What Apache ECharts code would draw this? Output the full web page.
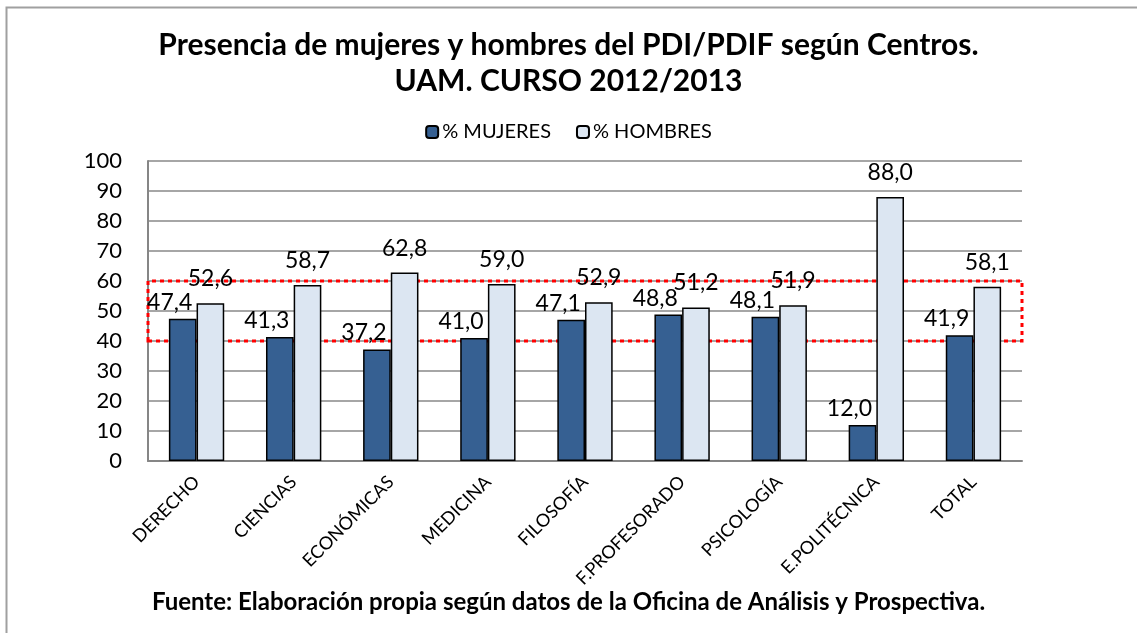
<!DOCTYPE html>
<html>
<head>
<meta charset="utf-8">
<script src="https://cdn.jsdelivr.net/npm/echarts@6/dist/echarts.min.js"></script>
<style>
  html, body { margin: 0; padding: 0; background: #fff; }
  #chart { width: 1137px; height: 633px; }
</style>
</head>
<body>
<div id="chart"></div>
<script>
var centros = ['DERECHO', 'CIENCIAS', 'ECONÓMICAS', 'MEDICINA', 'FILOSOFÍA', 'F.PROFESORADO', 'PSICOLOGÍA', 'E.POLITÉCNICA', 'TOTAL'];
var mujeres = [47.4, 41.3, 37.2, 41.0, 47.1, 48.8, 48.1, 12.0, 41.9];
var hombres = [52.6, 58.7, 62.8, 59.0, 52.9, 51.2, 51.9, 88.0, 58.1];
var franja = [40, 60]; // zona marcada en rojo

var fuente = 'Lato, "Open Sans", sans-serif';

function coma(p) {
  return p.value.toFixed(1).replace('.', ',');
}

var myChart = echarts.init(document.getElementById('chart'));

var option = {
  animation: false,
  backgroundColor: '#fff',
  textStyle: { fontFamily: fuente, color: '#000' },
  title: {
    text: 'Presencia de mujeres y hombres del PDI/PDIF según Centros.\nUAM. CURSO 2012/2013',
    left: 'center',
    top: 22,
    textStyle: {
      fontSize: 30,
      fontWeight: 'bold',
      lineHeight: 36,
      fontFamily: fuente,
      color: '#000'
    }
  },
  legend: {
    top: 117,
    left: 'center',
    itemWidth: 12,
    itemHeight: 12,
    itemGap: 25,
    textStyle: { fontSize: 20, color: '#000', fontFamily: fuente, padding: [0, 0, 0, -1] },
    data: ['% MUJERES', '% HOMBRES']
  },
  grid: {
    left: 148,
    right: 115,
    top: 161,
    bottom: 172
  },
  xAxis: {
    type: 'category',
    data: centros,
    axisLine: { lineStyle: { color: '#868686', width: 2 } },
    axisTick: { show: false },
    axisLabel: {
      rotate: 45,
      fontSize: 18,
      color: '#000',
      fontFamily: fuente,
      margin: 18,
      interval: 0
    }
  },
  yAxis: {
    type: 'value',
    min: 0,
    max: 100,
    interval: 10,
    axisLine: { show: true, lineStyle: { color: '#868686', width: 2 } },
    axisTick: { show: false },
    axisLabel: { fontSize: 22, color: '#000', fontFamily: fuente, margin: 26 },
    splitLine: { lineStyle: { color: '#a6a6a6', width: 2 } }
  },
  series: [
    {
      name: '% MUJERES',
      type: 'bar',
      data: mujeres,
      barGap: '0%',
      barCategoryGap: '43%',
      itemStyle: { color: '#366092', borderColor: '#000', borderWidth: 1.5 },
      label: {
        show: true,
        position: 'top',
        distance: 5,
        offset: [-13, 0],
        fontSize: 23,
        color: '#000',
        fontFamily: fuente,
        formatter: coma
      },
      markArea: {
        silent: true,
        itemStyle: {
          color: 'rgba(0,0,0,0)',
          borderColor: '#ff0000',
          borderWidth: 3,
          borderType: [4, 4]
        },
        data: [[{ yAxis: franja[0] }, { yAxis: franja[1] }]]
      }
    },
    {
      name: '% HOMBRES',
      type: 'bar',
      data: hombres,
      itemStyle: { color: '#dce6f2', borderColor: '#000', borderWidth: 1.5 },
      label: {
        show: true,
        position: 'top',
        distance: 13,
        fontSize: 23,
        color: '#000',
        fontFamily: fuente,
        formatter: coma
      }
    }
  ],
  graphic: [
    {
      type: 'rect',
      shape: { x: 6.5, y: 7.5, width: 1200, height: 700 },
      style: { fill: 'none', stroke: '#a0a0a0', lineWidth: 2 },
      silent: true
    },
    {
      type: 'text',
      left: 'center',
      top: 590,
      style: {
        text: 'Fuente: Elaboración propia según datos de la Oficina de Análisis y Prospectiva.',
        font: 'bold 24px ' + fuente,
        fill: '#000'
      }
    }
  ]
};

myChart.setOption(option);
</script>
</body>
</html>
